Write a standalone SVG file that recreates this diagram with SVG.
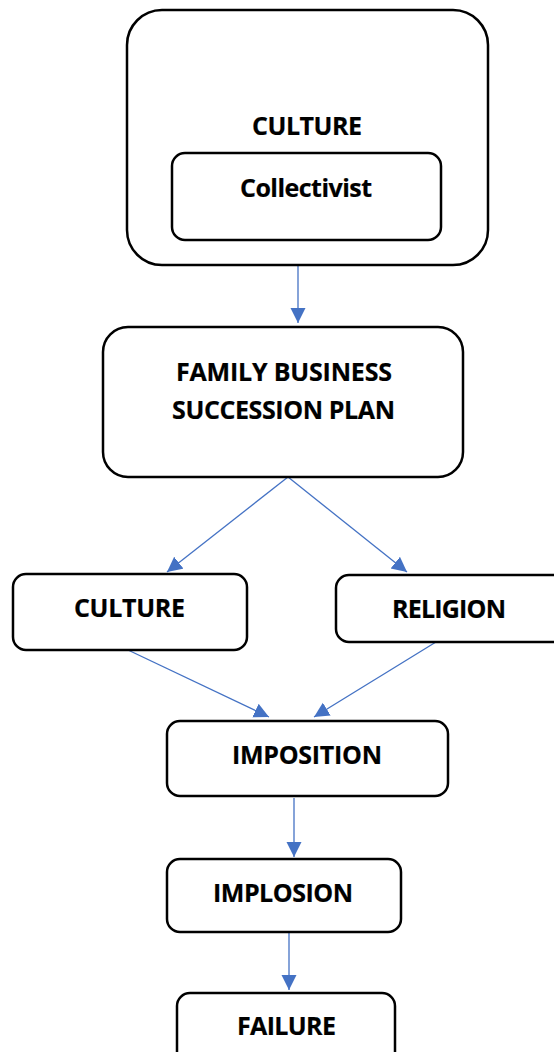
<svg xmlns="http://www.w3.org/2000/svg" width="554" height="1052" viewBox="0 0 554 1052">
<style>
.box{fill:#fff;stroke:#000;stroke-width:2.5}
.t{font-family:"Open Sans","Liberation Sans",sans-serif;font-weight:bold;font-size:25px;fill:#000;stroke:#000;stroke-width:0.2;text-anchor:middle}
.c{stroke:#4472C4;stroke-width:1.3;fill:none;marker-end:url(#ah)}
</style>
<defs>
<marker id="ah" markerUnits="userSpaceOnUse" markerWidth="16" markerHeight="16" refX="15" refY="7.5" orient="auto" viewBox="0 0 16 16">
<path d="M0,0 L15,7.5 L0,15 z" fill="#4472C4"/>
</marker>
</defs>
<rect width="554" height="1052" fill="#fff"/>
<g id="connectors">
<line class="c" x1="298" y1="265" x2="298" y2="323"/>
<line class="c" x1="288" y1="477" x2="167" y2="572"/>
<line class="c" x1="288" y1="477" x2="407" y2="572"/>
<line class="c" x1="128" y1="650" x2="269" y2="717"/>
<line class="c" x1="436" y1="642" x2="314" y2="717"/>
<line class="c" x1="294" y1="798" x2="294" y2="857"/>
<line class="c" x1="289" y1="932" x2="289" y2="990"/>
</g>
<g id="culture-top">
<rect class="box" x="127" y="10" width="361" height="255" rx="35"/>
<text class="t" x="307" y="135" textLength="110">CULTURE</text>
</g>
<g id="collectivist">
<rect class="box" x="172" y="153" width="269" height="87" rx="13"/>
<text class="t" x="306" y="197" textLength="132">Collectivist</text>
</g>
<g id="succession-plan">
<rect class="box" x="103" y="327" width="360" height="150" rx="25"/>
<text class="t" x="284" y="381" textLength="216">FAMILY BUSINESS</text>
<text class="t" x="283.5" y="419" textLength="223">SUCCESSION PLAN</text>
</g>
<g id="culture">
<rect class="box" x="13" y="574" width="234" height="76" rx="13"/>
<text class="t" x="129.5" y="617" textLength="111">CULTURE</text>
</g>
<g id="religion">
<rect class="box" x="336" y="575" width="232" height="67" rx="13"/>
<text class="t" x="449" y="618" textLength="114">RELIGION</text>
</g>
<g id="imposition">
<rect class="box" x="167" y="721" width="281" height="75" rx="13"/>
<text class="t" x="307" y="764" textLength="150">IMPOSITION</text>
</g>
<g id="implosion">
<rect class="box" x="167" y="859" width="234" height="73" rx="13"/>
<text class="t" x="283" y="902" textLength="140">IMPLOSION</text>
</g>
<g id="failure">
<rect class="box" x="177" y="993" width="218" height="75" rx="13"/>
<text class="t" x="286.5" y="1035" textLength="99">FAILURE</text>
</g>
</svg>
